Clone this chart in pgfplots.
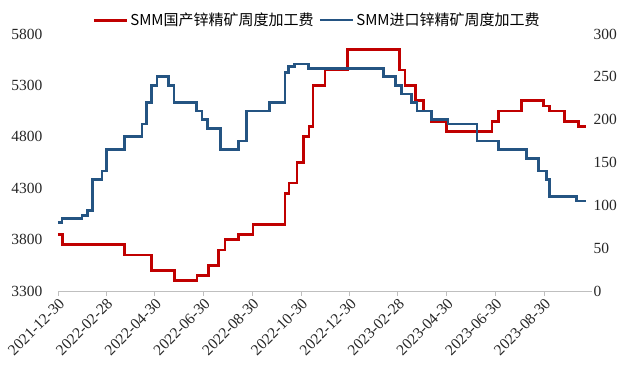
\documentclass[border=0pt]{standalone}
\usepackage{pgfplots}
\pgfplotsset{compat=1.18}
\usepackage{fontspec}
\setmainfont{Liberation Serif}
\newfontfamily\tnr{Liberation Serif}
\newfontfamily\cjk{Noto Sans CJK SC}
\definecolor{myred}{RGB}{192,0,0}
\definecolor{myblue}{RGB}{36,84,130}
\begin{document}
\begin{tikzpicture}
\useasboundingbox (-58pt,-80pt) rectangle (567pt,291pt);
\begin{axis}[
  at={(0pt,0pt)}, anchor=south west,
  scale only axis, width=534pt, height=257pt,
  xmin=0, xmax=668, ymin=3300, ymax=5800,
  ytick={3300,3800,4300,4800,5300,5800},
  xtick={0,60,121,182,243,304,365,425,486,547,608},
  xticklabels={2021-12-30,2022-02-28,2022-04-30,2022-06-30,2022-08-30,2022-10-30,2022-12-30,2023-02-28,2023-04-30,2023-06-30,2023-08-30},
  axis x line*=bottom, axis y line*=left,
  x axis line style={draw=black!25, line width=0.8pt, -},
  y axis line style={draw=none},
  xtick style={draw=black!25, line width=0.8pt},
  ytick style={draw=none},
  tick align=outside, major tick length=5pt,
  /pgf/number format/assume math mode=true,
  /pgf/number format/1000 sep={},
  tick label style={font=\tnr\fontsize{15.5}{16}\selectfont, text=black!85},
  xticklabel style={rotate=45, anchor=north east, inner sep=1pt},
  yticklabel style={xshift=-7pt},
  clip=false,
]
\addplot[const plot, color=myred, line width=2.7pt] coordinates {
(0,3850) (6,3750) (83,3650) (117,3500) (146,3400) (174,3450) (188,3550) (201,3700) (209,3800) (226,3850) (244,3950) (284,4250) (289,4350) (299,4550) (307,4800) (314,4900) (319,5300) (334,5450) (362,5650) (427,5450) (434,5300) (447,5150) (457,5050) (467,4950) (486,4850) (543,4950) (551,5050) (580,5150) (607,5100) (615,5050) (634,4950) (651,4900) (661,4900)
};
\end{axis}
\begin{axis}[
  at={(0pt,0pt)}, anchor=south west,
  scale only axis, width=534pt, height=257pt,
  xmin=0, xmax=668, ymin=0, ymax=300,
  ytick={0,50,100,150,200,250,300},
  axis x line=none, axis y line*=right,
  y axis line style={draw=none},
  ytick style={draw=none},
  /pgf/number format/assume math mode=true,
  tick label style={font=\tnr\fontsize{15.5}{16}\selectfont, text=black!85},
  yticklabel style={xshift=-2pt},
  legend columns=2,
  legend style={draw=none, fill=none, at={(0.485,1.054)}, anchor=center,
    font=\cjk\fontsize{15}{16}\selectfont, inner sep=0pt,
    /tikz/every even column/.append style={column sep=3pt}},
  legend image code/.code={\draw[#1] (0pt,0pt) -- (33pt,0pt);},
  clip=false,
]
\addlegendimage{color=myred, line width=3pt}
\addlegendentry{SMM国产锌精矿周度加工费}
\addplot[const plot, color=myblue, line width=2.7pt] coordinates {
(0,80) (5,85) (30,88) (37,94) (43,130) (55,140) (61,165) (83,180) (105,195) (111,220) (117,240) (124,250) (138,240) (145,220) (173,210) (180,200) (187,190) (203,165) (226,175) (236,210) (265,220) (284,255) (288,262) (296,265) (313,260) (407,250) (422,240) (430,230) (442,220) (449,210) (467,200) (488,195) (524,175) (551,165) (586,155) (601,140) (611,130) (615,110) (649,105) (661,105)
};
\addlegendentry{SMM进口锌精矿周度加工费}
\end{axis}
\end{tikzpicture}
\end{document}
